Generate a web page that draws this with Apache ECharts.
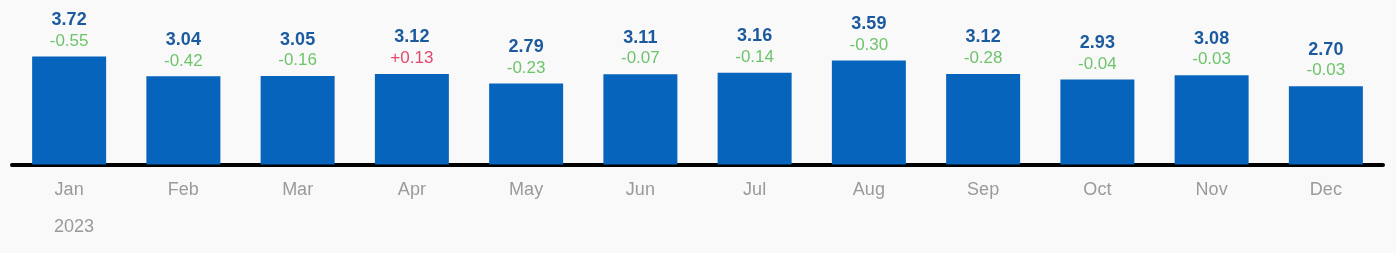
<!DOCTYPE html>
<html><head><meta charset="utf-8">
<script src="https://cdn.jsdelivr.net/npm/echarts@6/dist/echarts.min.js"></script>
<style>html,body{margin:0;padding:0;background:#f9f9f9}#c{width:1396px;height:253px}</style>
</head><body><div id="c"></div>
<script>
const categories = ['Jan','Feb','Mar','Apr','May','Jun','Jul','Aug','Sep','Oct','Nov','Dec'];
const values = [3.72,3.04,3.05,3.12,2.79,3.11,3.16,3.59,3.12,2.93,3.08,2.70];
const deltas = [-0.55,-0.42,-0.16,0.13,-0.23,-0.07,-0.14,-0.30,-0.28,-0.04,-0.03,-0.03];
const yearLabel = '2023';

const FONT = 'Liberation Sans, Arial, sans-serif';
const chart = echarts.init(document.getElementById('c'));
chart.setOption({
  backgroundColor: '#f9f9f9',
  animation: false,
  grid: {left: 12, right: 13, top: 48.5, bottom: 88.5},
  xAxis: {
    type: 'category', data: categories,
    axisLine: {lineStyle: {color: '#000', width: 4}},
    axisTick: {show: false},
    axisLabel: {color: '#9a9a9a', fontSize: 18, margin: 17, fontFamily: FONT}
  },
  yAxis: {type: 'value', min: 0, max: 4, show: false, splitLine: {show: false}},
  graphic: [{type: 'text', left: 54, top: 218, style: {text: yearLabel, fill: '#9a9a9a', fontSize: 18, fontFamily: FONT}}],
  series: [{
    type: 'bar', barWidth: 74,
    itemStyle: {color: '#0764bc'},
    data: values,
    label: {
      show: true, position: 'top', distance: 5,
      fontFamily: FONT,
      formatter: p => {
        const d = deltas[p.dataIndex];
        const ds = (d > 0 ? '+' : '') + d.toFixed(2);
        return '{v|' + p.value.toFixed(2) + '}\n{' + (d > 0 ? 'r' : 'g') + '|' + ds + '}';
      },
      rich: {
        v: {color: '#1b5a9e', fontSize: 18, fontWeight: 'bold', lineHeight: 21, fontFamily: FONT},
        g: {color: '#6ec46b', fontSize: 17, lineHeight: 21, fontFamily: FONT},
        r: {color: '#e2486c', fontSize: 17, lineHeight: 21, fontFamily: FONT}
      }
    }
  }]
});
</script></body></html>
